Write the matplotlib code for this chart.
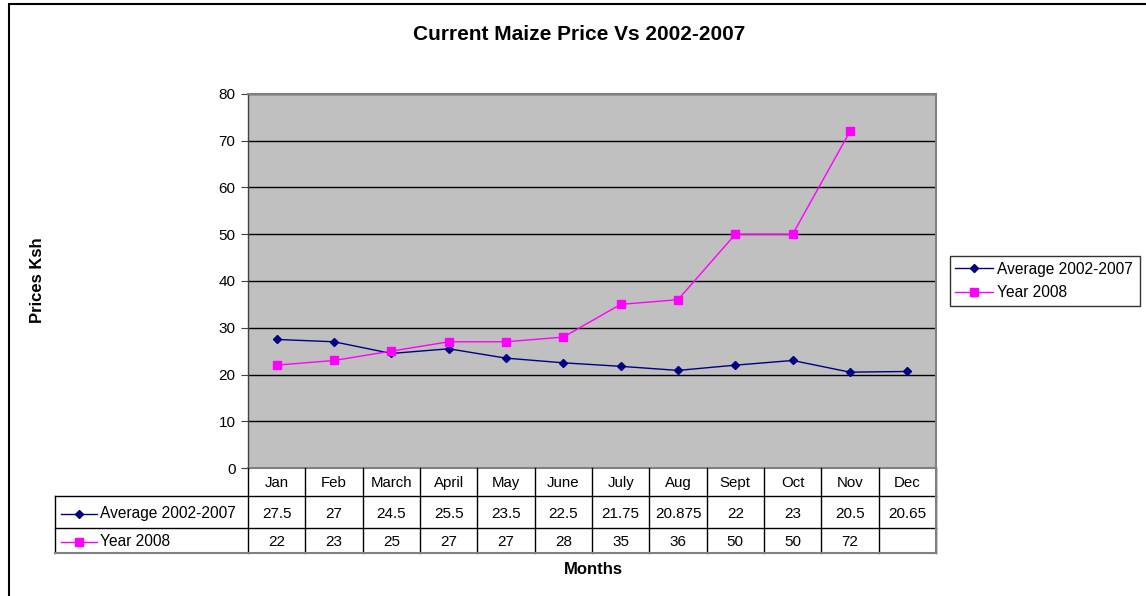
import matplotlib.pyplot as plt
from matplotlib.patches import Rectangle

months = ["Jan", "Feb", "March", "April", "May", "June", "July", "Aug", "Sept", "Oct", "Nov", "Dec"]
avg_vals = [27.5, 27, 24.5, 25.5, 23.5, 22.5, 21.75, 20.875, 22, 23, 20.5, 20.65]
y2008_vals = [22, 23, 25, 27, 27, 28, 35, 36, 50, 50, 72]
series_names = ["Average 2002-2007", "Year 2008"]

W, H = 1146, 596
plt.rcParams['font.family'] = ['Liberation Sans', 'DejaVu Sans']

def box(x0, y0, x1, y1):
    # pixel box -> figure rect
    return [x0 / W, 1 - y1 / H, (x1 - x0) / W, (y1 - y0) / H]

fig = plt.figure(figsize=(W / 100, H / 100), dpi=100)
fig.patches.append(Rectangle((9 / W, -0.1), 1.2, 1 - 4 / H + 0.1, transform=fig.transFigure,
                             fill=False, edgecolor='black', linewidth=1.5))

navy = '#000080'
mag = '#FF00FF'

ax = fig.add_axes(box(248, 94, 936, 468))
ax.set_facecolor('#C0C0C0')
x = list(range(len(months)))
ax.plot(x, avg_vals, color=navy, marker='D', markersize=4.5, linewidth=1, label=series_names[0])
ax.plot(x[:len(y2008_vals)], y2008_vals, color=mag, marker='s', markersize=6, linewidth=1,
        label=series_names[1])
ax.set_xlim(-0.5, 11.5)
ax.set_ylim(0, 80)
ax.set_yticks(range(0, 81, 10))
ax.yaxis.grid(True, color='black', linewidth=1)
ax.set_axisbelow(True)
ax.set_xticks([])
ax.tick_params(axis='y', length=5, labelsize=11, pad=4, color='#404040')
for s in ax.spines.values():
    s.set_color('#808080')
    s.set_linewidth(1.5)
ax.spines['left'].set_color('#404040')
ax.spines['left'].set_linewidth(1)

fig.text(579 / W, 1 - 35 / H, "Current Maize Price Vs 2002-2007", ha='center', va='center',
         fontsize=15, fontweight='bold')
fig.text(38 / W, 1 - 280 / H, "Prices Ksh", rotation=90, ha='center', va='center',
         fontsize=12, fontweight='bold')
fig.text(593 / W, 1 - 570 / H, "Months", ha='center', va='center', fontsize=12, fontweight='bold')

lb = box(950, 255, 1140, 307)
leg = ax.legend(loc='center left', bbox_to_anchor=lb, bbox_transform=fig.transFigure, mode='expand',
                frameon=True, fancybox=False, fontsize=11.2, handlelength=2.4, handletextpad=0.3,
                borderaxespad=0, labelspacing=0.55, borderpad=0.35)
leg.get_frame().set_edgecolor('black')
leg.get_frame().set_linewidth(1)

# data table below the plot
tab = fig.add_axes(box(55, 468, 936, 553))
lab_w = (248 - 55) / (688 / 12)
left = -0.5 - lab_w
tab.set_xlim(left, 11.5)
tab.set_ylim(85, 0)
tab.axis('off')
for i in range(13):
    tab.plot([i - 0.5, i - 0.5], [0, 85], color='black', linewidth=1)
tab.plot([left, left], [28, 85], color='black', linewidth=1)
tab.plot([left, 11.5], [28, 28], color='black', linewidth=1)
tab.plot([left, 11.5], [60, 60], color='black', linewidth=1)
tab.plot([left, 11.5], [85, 85], color='#808080', linewidth=1.5)
tab.plot([11.5, 11.5], [0, 85], color='#808080', linewidth=1.5)
for i, m in enumerate(months):
    tab.text(i, 15, m, ha='center', va='center', fontsize=10.8)
for i, v in enumerate(avg_vals):
    tab.text(i, 45.5, f"{v:g}", ha='center', va='center', fontsize=11)
for i, v in enumerate(y2008_vals):
    tab.text(i, 73.5, f"{v:g}", ha='center', va='center', fontsize=11)
tab.plot([left + 0.1, left + 0.73], [45.5, 45.5], color=navy, linewidth=1)
tab.plot([left + 0.42], [45.5], color=navy, marker='D', markersize=4.5)
tab.plot([left + 0.1, left + 0.73], [73.5, 73.5], color=mag, linewidth=1)
tab.plot([left + 0.42], [73.5], color=mag, marker='s', markersize=6)
tab.text(left + 0.79, 45.5, series_names[0], ha='left', va='center', fontsize=11.2)
tab.text(left + 0.79, 73.5, series_names[1], ha='left', va='center', fontsize=11.2)
for l in tab.lines:
    l.set_clip_on(False)

fig.savefig("out.png", dpi=100)
